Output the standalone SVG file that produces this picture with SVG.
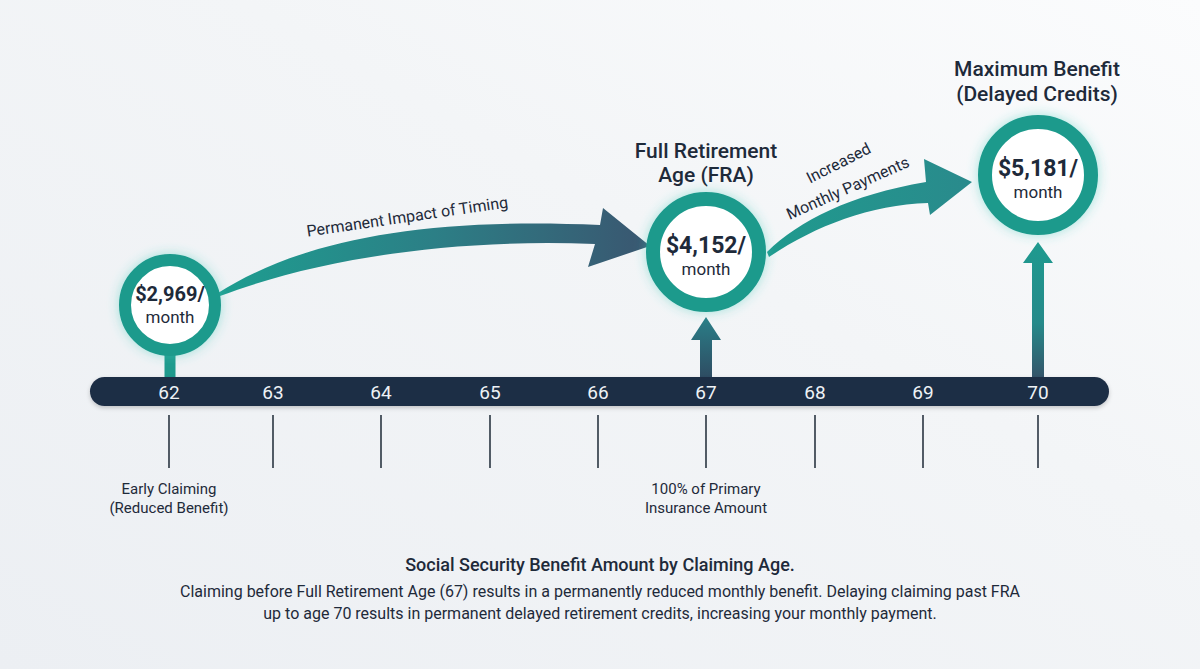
<svg xmlns="http://www.w3.org/2000/svg" width="1200" height="669" viewBox="0 0 1200 669">
<defs>
<linearGradient id="bg" x1="0" y1="1" x2="1" y2="0">
<stop offset="0" stop-color="#eceff3"/>
<stop offset="0.6" stop-color="#f3f5f7"/>
<stop offset="1" stop-color="#fbfcfd"/>
</linearGradient>
<linearGradient id="arr1" x1="218" y1="0" x2="650" y2="0" gradientUnits="userSpaceOnUse">
<stop offset="0" stop-color="#1d9e90"/>
<stop offset="0.5" stop-color="#2c7f86"/>
<stop offset="1" stop-color="#3a5670"/>
</linearGradient>
<linearGradient id="arr2" x1="768" y1="0" x2="975" y2="0" gradientUnits="userSpaceOnUse">
<stop offset="0" stop-color="#1f9a8e"/>
<stop offset="1" stop-color="#2a8a8c"/>
</linearGradient>
<linearGradient id="up67" x1="0" y1="317" x2="0" y2="377" gradientUnits="userSpaceOnUse">
<stop offset="0" stop-color="#2a7f88"/>
<stop offset="1" stop-color="#2e4d63"/>
</linearGradient>
<linearGradient id="up70" x1="0" y1="242" x2="0" y2="377" gradientUnits="userSpaceOnUse">
<stop offset="0" stop-color="#1e9a8f"/>
<stop offset="0.6" stop-color="#268a8a"/>
<stop offset="1" stop-color="#34556a"/>
</linearGradient>
<filter id="glow2" x="-40%" y="-40%" width="180%" height="180%">
<feGaussianBlur in="SourceAlpha" stdDeviation="6" result="b"/>
<feFlood flood-color="#3cc9b8" flood-opacity="0.45"/>
<feComposite operator="in" in2="b"/>
<feMerge><feMergeNode/><feMergeNode in="SourceGraphic"/></feMerge>
</filter>
<filter id="shadow" x="-5%" y="-50%" width="110%" height="200%">
<feDropShadow dx="0" dy="2" stdDeviation="2" flood-color="#000" flood-opacity="0.2"/>
</filter>
</defs>
<style>
.ring{fill:#ffffff;stroke:#1c9a8c;}
.amt{font-family:Roboto,"Liberation Sans",sans-serif;font-weight:700;fill:#1e2a3a;text-anchor:middle;}
.mon{font-family:Roboto,"Liberation Sans",sans-serif;font-weight:400;fill:#1e2a3a;text-anchor:middle;font-size:17px;}
.head{font-family:Roboto,"Liberation Sans",sans-serif;font-weight:500;fill:#1e2a3a;text-anchor:middle;font-size:21px;}
.age{font-family:Roboto,"Liberation Sans",sans-serif;font-weight:400;fill:#eef2f6;text-anchor:middle;font-size:19px;}
.tick{stroke:#2a3542;stroke-width:1.6;}
.note{font-family:Roboto,"Liberation Sans",sans-serif;font-weight:400;fill:#1e2a3a;text-anchor:middle;font-size:15px;}
.alabel{font-family:Roboto,"Liberation Sans",sans-serif;font-weight:400;fill:#1e2a3a;text-anchor:middle;font-size:16px;}
.cap{font-family:Roboto,"Liberation Sans",sans-serif;fill:#1e2a3a;text-anchor:middle;}
</style>
<rect width="1200" height="669" fill="url(#bg)"/>

<g id="connectors">
<path d="M218,293 C300,241 420,217 600,225 L603,208 L650,246 L588,267 L595,244 C440,238 310,262 220,296 Z" fill="url(#arr1)"/>
<path d="M767,252 C800,220 850,195 926,182 L924,159 L972,182 L930,215 L928,203 C870,205 815,226 769,257 Z" fill="url(#arr2)"/>
<rect x="164.5" y="354" width="11" height="26" fill="#1f9a8d"/>
<path d="M700,377 L700,340 L691,340 L706,317 L721,340 L712,340 L712,377 Z" fill="url(#up67)"/>
<path d="M1032,377 L1032,263 L1023,263 L1038,242 L1053,263 L1044,263 L1044,377 Z" fill="url(#up70)"/>
<text class="alabel" transform="translate(408,222) rotate(-8.3)">Permanent Impact of Timing</text>
<text class="alabel" transform="translate(841,168) rotate(-27)">Increased</text>
<text class="alabel" transform="translate(850,193) rotate(-24)">Monthly Payments</text>
</g>

<g id="timeline">
<rect x="90" y="377" width="1019" height="29" rx="14.5" fill="#1e2d45" filter="url(#shadow)"/>
<text class="age" x="169" y="399">62</text>
<text class="age" x="273" y="399">63</text>
<text class="age" x="381" y="399">64</text>
<text class="age" x="490" y="399">65</text>
<text class="age" x="598" y="399">66</text>
<text class="age" x="706" y="399">67</text>
<text class="age" x="815" y="399">68</text>
<text class="age" x="923" y="399">69</text>
<text class="age" x="1038" y="399">70</text>
<line class="tick" x1="169" y1="415" x2="169" y2="468"/>
<line class="tick" x1="273" y1="415" x2="273" y2="468"/>
<line class="tick" x1="381" y1="415" x2="381" y2="468"/>
<line class="tick" x1="490" y1="415" x2="490" y2="468"/>
<line class="tick" x1="598" y1="415" x2="598" y2="468"/>
<line class="tick" x1="706" y1="415" x2="706" y2="468"/>
<line class="tick" x1="815" y1="415" x2="815" y2="468"/>
<line class="tick" x1="923" y1="415" x2="923" y2="468"/>
<line class="tick" x1="1038" y1="415" x2="1038" y2="468"/>
<text class="note" x="169" y="494">Early Claiming</text>
<text class="note" x="169" y="513">(Reduced Benefit)</text>
<text class="note" x="706" y="494">100% of Primary</text>
<text class="note" x="706" y="513">Insurance Amount</text>
</g>

<g id="node62">
<circle class="ring" cx="170" cy="305" r="45" stroke-width="12" filter="url(#glow2)"/>
<text class="amt" x="170" y="301" font-size="20">$2,969/</text>
<text class="mon" x="170" y="323" font-size="16">month</text>
</g>

<g id="node67">
<text class="head" x="706" y="158">Full Retirement</text>
<text class="head" x="706" y="182">Age (FRA)</text>
<circle class="ring" cx="706" cy="252" r="53" stroke-width="14" filter="url(#glow2)"/>
<text class="amt" x="706" y="253" font-size="23">$4,152/</text>
<text class="mon" x="706" y="275">month</text>
</g>

<g id="node70">
<text class="head" x="1037" y="76">Maximum Benefit</text>
<text class="head" x="1037" y="101">(Delayed Credits)</text>
<circle class="ring" cx="1038" cy="175" r="53" stroke-width="14" filter="url(#glow2)"/>
<text class="amt" x="1038" y="176" font-size="23">$5,181/</text>
<text class="mon" x="1038" y="198">month</text>
</g>

<g id="caption">
<text class="cap" x="600" y="571" font-size="18" font-weight="500">Social Security Benefit Amount by Claiming Age.</text>
<text class="cap" x="600" y="597" font-size="16">Claiming before Full Retirement Age (67) results in a permanently reduced monthly benefit. Delaying claiming past FRA</text>
<text class="cap" x="600" y="619" font-size="16">up to age 70 results in permanent delayed retirement credits, increasing your monthly payment.</text>
</g>
</svg>
